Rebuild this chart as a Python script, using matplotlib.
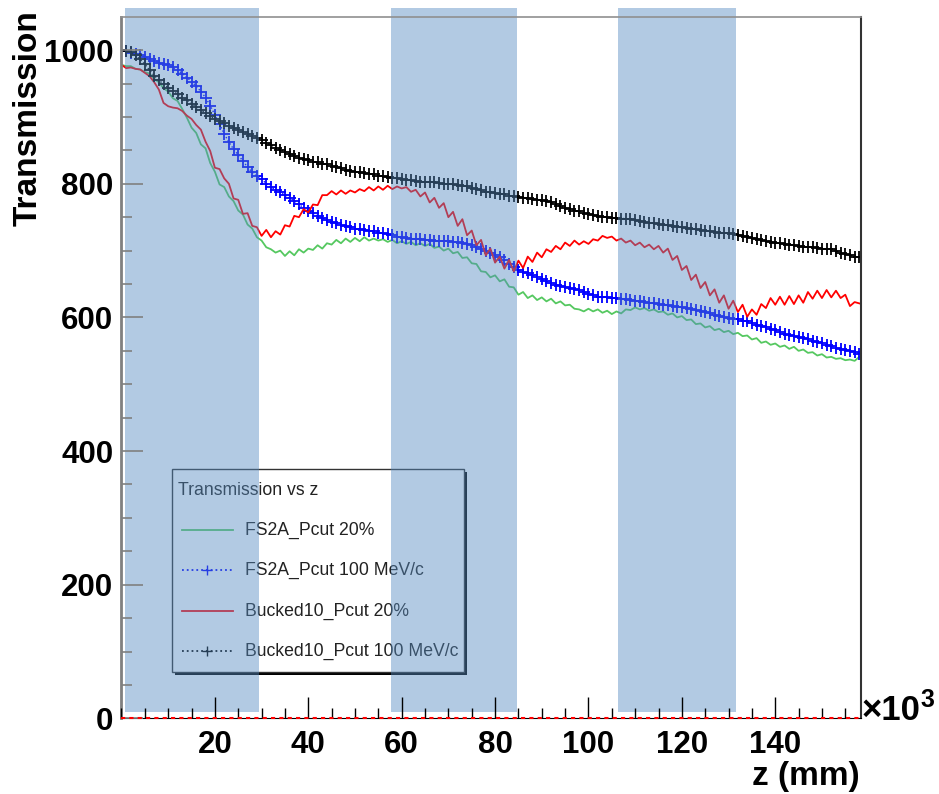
import numpy as np
import matplotlib
matplotlib.use("Agg")
import matplotlib.pyplot as plt
from matplotlib.patches import Rectangle
from matplotlib.lines import Line2D

plt.rcParams['font.family'] = ['Liberation Sans', 'DejaVu Sans']

# z positions, units of 10^3 mm
z = np.arange(0, 159)

# Transmission, one value per unit of z
fs2a_20 = [
    978, 976, 976, 972, 971, 967, 965, 957, 952, 943,
    938, 928, 924, 912, 899, 884, 876, 859, 853, 831,
    818, 799, 795, 781, 774, 760, 754, 739, 733, 720,
    715, 705, 702, 697, 700, 692, 699, 693, 702, 697,
    703, 701, 708, 703, 711, 709, 716, 711, 718, 713,
    719, 714, 720, 715, 718, 715, 717, 713, 716, 711,
    714, 710, 713, 708, 711, 707, 710, 704, 706, 700,
    703, 696, 698, 689, 690, 681, 680, 669, 668, 660,
    663, 654, 657, 646, 645, 634, 638, 629, 633, 626,
    630, 624, 628, 621, 624, 618, 619, 613, 612, 609,
    613, 609, 612, 607, 610, 605, 609, 606, 612, 611,
    615, 612, 614, 610, 612, 608, 609, 604, 606, 600,
    602, 596, 597, 590, 591, 585, 587, 581, 583, 578,
    580, 575, 577, 572, 573, 567, 569, 562, 564, 559,
    561, 556, 558, 553, 556, 550, 552, 547, 548, 543,
    545, 540, 541, 538, 539, 536, 537, 535, 541,
]

fs2a_100 = [
    1000, 998, 996, 994, 992, 990, 987, 984, 981, 979,
    977, 974, 970, 965, 959, 953, 946, 938, 929, 917,
    903, 889, 875, 862, 852, 843, 834, 825, 817, 811,
    807, 800, 795, 791, 787, 783, 779, 774, 769, 764,
    760, 756, 752, 749, 746, 743, 741, 739, 737, 735,
    733, 732, 731, 730, 729, 727, 726, 725, 723, 721,
    720, 719, 718, 717, 717, 716, 716, 715, 715, 714,
    714, 713, 713, 711, 710, 708, 705, 702, 700, 697,
    693, 690, 686, 680, 675, 671, 668, 666, 663, 660,
    657, 654, 651, 649, 647, 645, 644, 642, 641, 638,
    635, 633, 631, 630, 630, 629, 629, 628, 627, 626,
    625, 624, 623, 622, 621, 620, 619, 618, 617, 616,
    615, 614, 613, 611, 610, 608, 606, 604, 602, 600,
    599, 598, 597, 595, 594, 591, 589, 587, 586, 583,
    581, 578, 575, 573, 572, 570, 569, 567, 565, 563,
    561, 559, 557, 555, 553, 551, 550, 548, 546,
]

bucked_20 = [
    978, 973, 974, 972, 971, 966, 961, 952, 941, 921,
    916, 914, 913, 909, 902, 897, 888, 881, 863, 849,
    824, 822, 808, 800, 778, 776, 755, 756, 737, 735,
    722, 731, 720, 729, 724, 738, 736, 752, 750, 762,
    757, 769, 768, 783, 783, 789, 784, 790, 785, 790,
    787, 792, 789, 795, 790, 796, 791, 797, 792, 796,
    793, 795, 788, 791, 781, 787, 772, 779, 764, 771,
    750, 758, 737, 747, 723, 730, 708, 716, 693, 703,
    682, 691, 673, 686, 669, 685, 674, 691, 683, 697,
    690, 702, 698, 707, 702, 712, 707, 715, 709, 714,
    710, 717, 715, 722, 719, 721, 715, 718, 712, 715,
    708, 712, 705, 709, 702, 707, 697, 703, 686, 692,
    671, 677, 656, 664, 644, 653, 633, 642, 622, 633,
    613, 625, 608, 619, 601, 612, 604, 620, 614, 629,
    619, 631, 619, 632, 620, 633, 622, 638, 628, 640,
    629, 641, 630, 640, 629, 634, 617, 623, 621,
]

bucked_100 = [
    1000, 999, 997, 992, 986, 979, 970, 962, 955, 949,
    944, 939, 934, 929, 925, 920, 915, 910, 906, 901,
    897, 894, 891, 887, 884, 881, 878, 875, 872, 869,
    865, 861, 858, 854, 851, 848, 845, 842, 839, 837,
    835, 833, 832, 830, 829, 827, 825, 823, 821, 819,
    818, 817, 816, 815, 814, 812, 811, 810, 809, 808,
    807, 806, 805, 804, 803, 803, 803, 802, 801, 800,
    800, 799, 798, 797, 796, 794, 792, 790, 788, 787,
    786, 785, 784, 782, 781, 780, 779, 778, 777, 776,
    775, 774, 772, 769, 766, 764, 762, 760, 759, 757,
    755, 753, 752, 751, 750, 749, 749, 748, 748, 747,
    746, 744, 743, 742, 741, 740, 739, 738, 737, 736,
    735, 734, 733, 732, 731, 730, 729, 728, 727, 726,
    726, 725, 724, 722, 721, 719, 718, 716, 715, 713,
    712, 711, 710, 709, 708, 707, 706, 705, 705, 704,
    703, 702, 702, 700, 697, 695, 693, 691, 690,
]

labels = ['FS2A_Pcut 20%', 'FS2A_Pcut 100 MeV/c', 'Bucked10_Pcut 20%', 'Bucked10_Pcut 100 MeV/c']

# shaded z ranges (10^3 mm)
band_start = [0.7, 57.7, 106.4]
band_end = [29.4, 84.7, 131.7]


fig = plt.figure(figsize=(9.39, 7.94), dpi=100)
ax = fig.add_axes([121.5/939, 1-718.4/794, 739.2/939, 701.7/794])

green = '#55c860'
ax.plot(z, fs2a_20, color=green, lw=1.3, zorder=3)
ax.plot(z, fs2a_100, color='blue', ls=':', lw=1, marker='+', ms=8.5, mew=1.3, zorder=3)
ax.plot(z, bucked_20, color='red', lw=1.3, zorder=3)
ax.plot(z, bucked_100, color='black', ls=':', lw=1, marker='+', ms=8.5, mew=1.3, zorder=3)

# red dotted line along zero
ax.axhline(0, color='red', ls=(0, (2, 2)), lw=1.5, zorder=8, clip_on=False)

ax.set_xlim(0, 158.3)
ax.set_ylim(0, 1050)

# legend drawn by hand (ROOT style box with shadow)
T = ax.transAxes
ax.add_patch(Rectangle((0.0683+0.0041, 0.0661-0.0043), 0.395, 0.2893, transform=T,
                       facecolor='black', edgecolor='none', zorder=4))
ax.add_patch(Rectangle((0.0683, 0.0661), 0.395, 0.2893, transform=T,
                       facecolor='white', edgecolor='#333333', lw=1, zorder=4.1))
ax.text(0.0764, 0.3241, 'Transmission vs z', transform=T, fontsize=12.7,
        color='#222222', va='center', ha='left', zorder=4.2)
rows = [0.2685, 0.2115, 0.1531, 0.0961]
styles = [dict(color=green, ls='-'), dict(color='blue', ls=':'),
          dict(color='red', ls='-'), dict(color='black', ls=':')]
for yy, lab, st, mk in zip(rows, labels, styles, [False, True, False, True]):
    ax.add_line(Line2D([0.0818, 0.1508], [yy, yy], transform=T, lw=1.3, zorder=4.2, **st))
    if mk:
        ax.add_line(Line2D([0.1163], [yy], transform=T, marker='+', ms=7, mew=1,
                           color=st['color'], zorder=4.2))
    ax.text(0.1671, yy, lab, transform=T, fontsize=12.7, color='#222222',
            va='center', ha='left', zorder=4.2)

# blue bands on top
for a, b in zip(band_start, band_end):
    ax.add_patch(Rectangle((a, 9.4), b - a, 1054, facecolor='#568bc1', alpha=0.45,
                           edgecolor='none', zorder=5, clip_on=False))

# axes style
ax.set_xticks([20, 40, 60, 80, 100, 120, 140])
ax.set_xticks(np.arange(0, 158, 5), minor=True)
ax.set_yticks([0, 200, 400, 600, 800, 1000])
ax.set_yticks(np.arange(0, 1050, 50), minor=True)
ax.tick_params(axis='both', which='both', direction='in', labelsize=22.5)
ax.tick_params(axis='x', which='major', length=15, width=1, color='black', pad=8)
ax.tick_params(axis='x', which='minor', length=7.5, width=1, color='black')
ax.tick_params(axis='y', which='major', length=16, width=1.2, color='#808080', pad=6)
ax.tick_params(axis='y', which='minor', length=8, width=1.2, color='#808080')
for lab in ax.get_xticklabels() + ax.get_yticklabels():
    lab.set_fontweight('bold')
ax.xaxis.set_zorder(7)
ax.yaxis.set_zorder(7)

ax.spines['left'].set_color('#808080')
ax.spines['left'].set_linewidth(2)
ax.spines['top'].set_color('#909090')
ax.spines['top'].set_linewidth(1.2)
ax.spines['right'].set_color('#333333')
ax.spines['right'].set_linewidth(1.5)
ax.spines['bottom'].set_color('black')
for sp in ax.spines.values():
    sp.set_zorder(7)

fig.text(860/939, 1-776/794, 'z (mm)', fontsize=24, fontweight='bold', ha='right', va='center')
fig.text(28/939, 1-10/794, 'Transmission', fontsize=24, fontweight='bold', rotation=90,
         ha='center', va='top')
# x10^3 multiplier, exponent as separate raised text
fig.text(862/939, 1-710/794, '×10', fontsize=25, fontweight='bold', ha='left', va='center')
fig.text(920/939, 1-688/794, '3', fontsize=18, fontweight='bold', ha='left', va='top')

fig.savefig('out.png', dpi=100)
